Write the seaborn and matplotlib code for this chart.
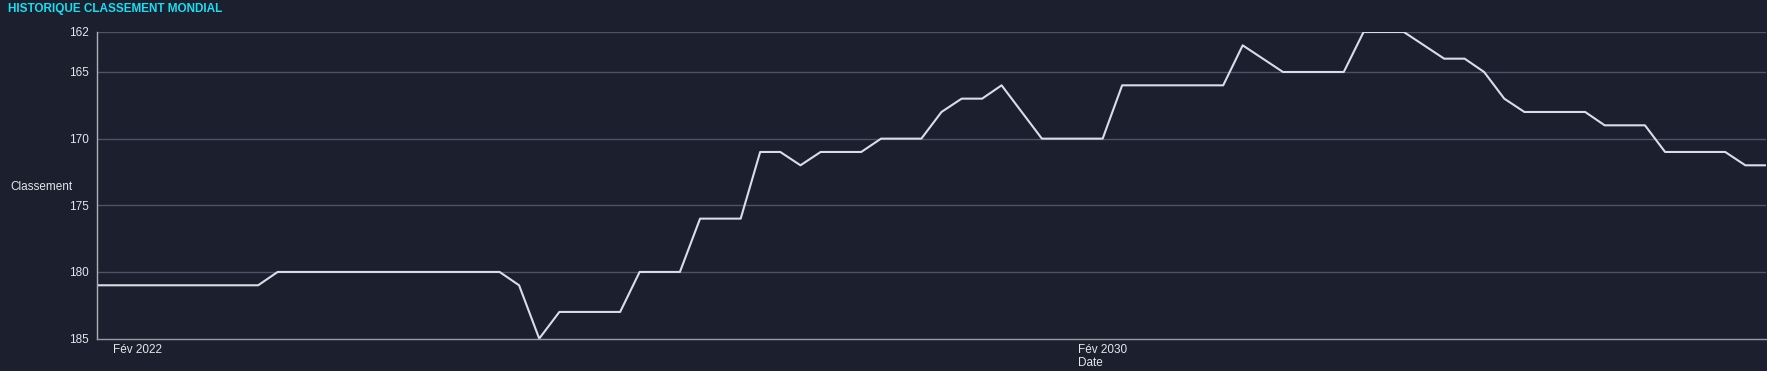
import matplotlib
matplotlib.use("Agg")
import matplotlib.pyplot as plt
import seaborn as sns
import pandas as pd
import numpy as np

# ---- data ----
start_date = "2021-10-01"
ranks = [181]*9 + [180]*12 + [181, 185] + [183]*4 + [180]*3 + [176]*3 + \
        [171, 171, 172] + [171]*3 + [170]*3 + [168, 167, 167, 166, 168] + \
        [170]*4 + [166]*6 + [163, 164] + [165]*4 + [162]*3 + [163, 164, 164, 165, 167] + \
        [168]*4 + [169]*3 + [171]*4 + [172, 172]
dates = pd.date_range(start_date, periods=len(ranks), freq="2MS")
ytick_values = [162, 165, 170, 175, 180, 185]
xtick_dates = pd.to_datetime(["2022-02-01", "2030-02-01"])
xtick_labels = ["Fév 2022", "Fév 2030"]
title = "HISTORIQUE CLASSEMENT MONDIAL"

df = pd.DataFrame({"Date": dates, "Classement": ranks})

BG = "#1c1f2e"
sns.set_theme(style="dark")
plt.rcParams["font.family"] = ["Liberation Sans", "DejaVu Sans"]

W, H = 1767, 371
fig = plt.figure(figsize=(W/100, H/100), dpi=100, facecolor=BG)
ax = fig.add_axes([97/W, 1-338.6/H, (1765.5-97)/W, (338.6-32)/H])
ax.set_facecolor(BG)

sns.lineplot(data=df, x="Date", y="Classement", ax=ax, color="#dcdce8", linewidth=1.5)

ax.set_ylim(185, 162)
ax.set_xlim(dates[0], dates[-1])
ax.set_yticks(ytick_values)
ax.set_xticks(xtick_dates)
ax.set_xticklabels(xtick_labels)

for y in ytick_values[:-1]:
    ax.axhline(y, color="#4f5264", linewidth=1, zorder=0)

for s in ["top", "right"]:
    ax.spines[s].set_visible(False)
ax.spines["left"].set_color("#b0b0b8")
ax.spines["left"].set_linewidth(1)
ax.spines["bottom"].set_color("#9a9aa5")
ax.spines["bottom"].set_linewidth(1)
ax.grid(False)

ax.tick_params(axis="y", colors="#e6e6ea", labelsize=8.5, length=4, width=0.8, pad=2, color="#9a9aa5")
ax.tick_params(axis="x", colors="#e6e6ea", labelsize=8.5, length=0, pad=4)

ax.set_ylabel("Classement", rotation=0, color="#e6e6ea", fontsize=8.5, ha="center", va="center")
ax.yaxis.set_label_coords((41-97)/(1765.5-97), 0.5 - (186.7-185.3)/306.6)
ax.set_xlabel("Date", color="#e6e6ea", fontsize=8.5, va="center")
ax.xaxis.set_label_coords((1090-97)/(1765.5-97), -(363.3-338.6)/306.6)

fig.text(8/W, 1-9/H, title, color="#16e0f5", fontsize=8.5, fontweight="bold", va="center", ha="left")

fig.savefig("out.png", dpi=100, facecolor=BG)
